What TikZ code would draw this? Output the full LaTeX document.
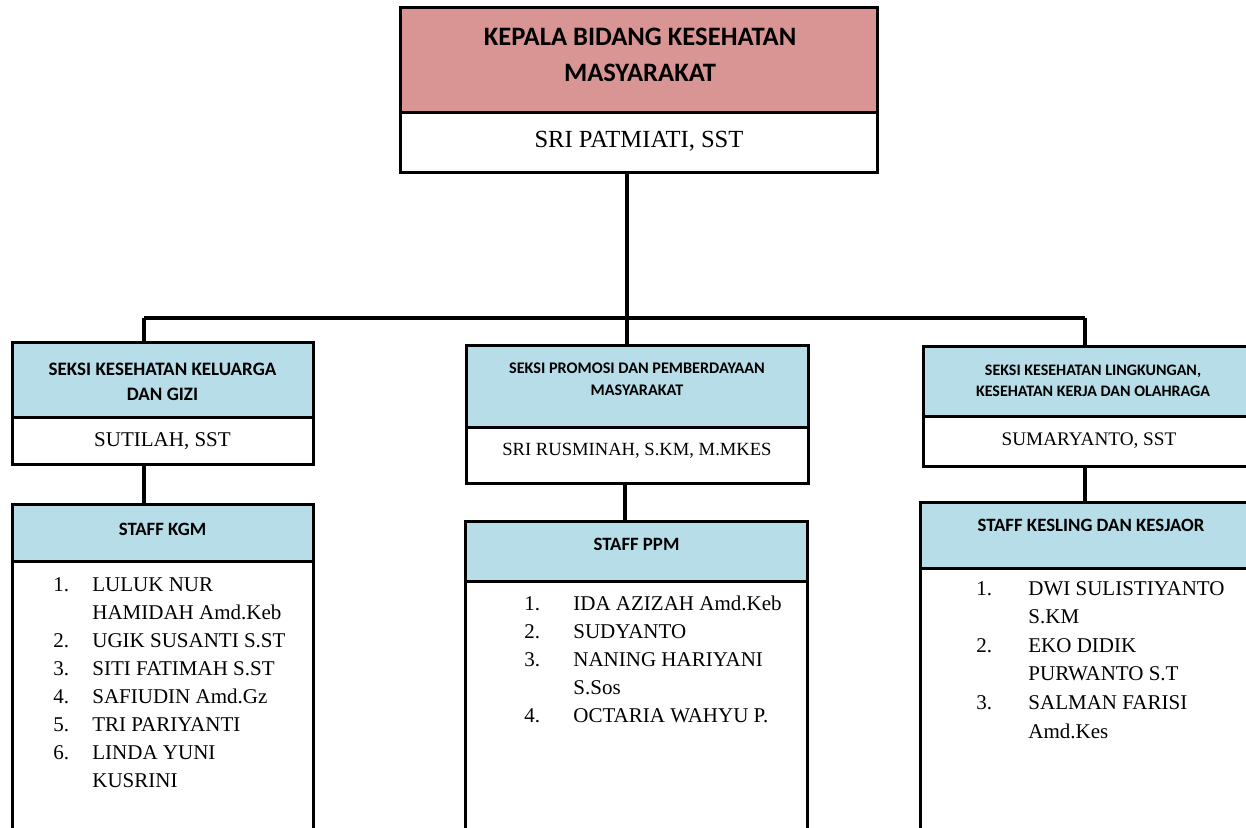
\documentclass[tikz,border=0pt]{standalone}
\usepackage{fontspec}
\setmainfont{Liberation Serif}
\newfontfamily\calib{Carlito}
\definecolor{pinkhd}{HTML}{D99594}
\definecolor{bluehd}{HTML}{B6DDE8}
\newcommand\twoln[2]{\begin{tabular}[t]{@{}c@{}}#1\\#2\end{tabular}}
\tikzset{
  boxx/.style={draw, line width=1.5pt, inner sep=0pt, outer sep=0pt, anchor=north west},
  pinkbox/.style={boxx, fill=pinkhd},
  bluebox/.style={boxx, fill=bluehd},
  whitebox/.style={boxx, fill=white},
  txt/.style={anchor=base, inner sep=0pt},
  lst/.style={anchor=base west, inner sep=0pt, font=\fontsize{10.5}{14}\selectfont},
  conn/.style={line width=1.8pt}
}
\begin{document}
\begin{tikzpicture}[x=0.5pt,y=-0.5pt]
\useasboundingbox (0,0) rectangle (1246,828);
\begin{scope}
\clip (0,0) rectangle (1246,828);
% top box
\node[pinkbox, minimum width=238.5pt, minimum height=52.5pt] (tph) at (400,8) {};
\node[whitebox, minimum width=238.5pt, minimum height=30pt] (tpn) at (400,113) {};
% left
\node[bluebox, minimum width=150.5pt, minimum height=37pt] (lh) at (12,343) {};
\node[whitebox, minimum width=150.5pt, minimum height=23.5pt] (ln) at (12,417) {};
\node[bluebox, minimum width=150.5pt, minimum height=28.5pt] (lsh) at (12,504) {};
\node[whitebox, minimum width=150.5pt, minimum height=145pt] (lsb) at (12,561) {};
% middle
\node[bluebox, minimum width=171pt, minimum height=40.5pt] (mh) at (466,346) {};
\node[whitebox, minimum width=171pt, minimum height=28pt] (mn) at (466,427) {};
\node[bluebox, minimum width=171pt, minimum height=30pt] (msh) at (465,521) {};
\node[whitebox, minimum width=171pt, minimum height=135pt] (msb) at (465,581) {};
% right
\node[bluebox, minimum width=200pt, minimum height=34.5pt] (rh) at (923,347) {};
\node[whitebox, minimum width=200pt, minimum height=25pt] (rn) at (923,416) {};
\node[bluebox, minimum width=200pt, minimum height=33pt] (rsh) at (920,502) {};
\node[whitebox, minimum width=200pt, minimum height=140pt] (rsb) at (920,568) {};
% connectors
\coordinate (bl) at (144,318);
\coordinate (bm) at (627,318);
\coordinate (br) at (1085,318);
\draw[conn] (bm |- tpn.south) -- (bm);
\draw[conn] (bl) -- (br);
\draw[conn] (bl) -- (bl |- lh.north);
\draw[conn] (bm) -- (bm |- mh.north);
\draw[conn] (br) -- (br |- rh.north);
\draw[conn] (bl |- ln.south) -- (bl |- lsh.north);
\coordinate (bm2) at (625,500);
\draw[conn] (bm2 |- mn.south) -- (bm2 |- msh.north);
\draw[conn] (br |- rn.south) -- (br |- rsh.north);
% texts
\node[txt, font={\calib\bfseries\fontsize{13.3}{18}\selectfont}] (t1) at (640,45.7) {\twoln{KEPALA BIDANG KESEHATAN}{MASYARAKAT}};
\node[txt, font=\fontsize{12.3}{14}\selectfont] (t2) at (639,148) {SRI PATMIATI, SST};
\node[txt, font={\calib\bfseries\fontsize{9.5}{12.85}\selectfont}] (t3) at (162.5,375) {\twoln{SEKSI KESEHATAN KELUARGA}{DAN GIZI}};
\node[txt, font=\fontsize{10.5}{12}\selectfont] (t4) at (162.5,446.7) {SUTILAH, SST};
\node[txt, font={\calib\bfseries\fontsize{8.1}{11.2}\selectfont}] (t5) at (637,373.3) {\twoln{SEKSI PROMOSI DAN PEMBERDAYAAN}{MASYARAKAT}};
\node[txt, font=\fontsize{9.3}{12}\selectfont] (t6) at (637,455) {SRI RUSMINAH, S.KM, M.MKES};
\node[txt, font={\calib\bfseries\fontsize{8}{10.5}\selectfont}] (t7) at (1093,375.7) {\twoln{SEKSI KESEHATAN LINGKUNGAN,}{KESEHATAN KERJA DAN OLAHRAGA}};
\node[txt, font=\fontsize{9.6}{12}\selectfont] (t8) at (1089,445.7) {SUMARYANTO, SST};
\node[txt, font={\calib\bfseries\fontsize{9.4}{12}\selectfont}] (t9) at (162.5,535) {STAFF KGM};
\node[txt, font={\calib\bfseries\fontsize{9.4}{12}\selectfont}] (t10) at (636.5,550) {STAFF PPM};
\node[txt, font={\calib\bfseries\fontsize{9.4}{12}\selectfont}] (t11) at (1091,531.7) {STAFF KESLING DAN KESJAOR};
% lists
\node[lst] (l1) at (53,591.7) {\begin{tabular}[t]{@{}p{19.5pt}@{}l@{}}
1. & LULUK NUR\\
   & HAMIDAH Amd.Keb\\
2. & UGIK SUSANTI S.ST\\
3. & SITI FATIMAH S.ST\\
4. & SAFIUDIN Amd.Gz\\
5. & TRI PARIYANTI\\
6. & LINDA YUNI\\
   & KUSRINI
\end{tabular}};
\node[lst] (l2) at (524,610) {\begin{tabular}[t]{@{}p{24.5pt}@{}l@{}}
1. & IDA AZIZAH Amd.Keb\\
2. & SUDYANTO\\
3. & NANING HARIYANI\\
   & S.Sos\\
4. & OCTARIA WAHYU P.
\end{tabular}};
\node[lst, font=\fontsize{10.5}{14.3}\selectfont] (l3) at (976,595) {\begin{tabular}[t]{@{}p{26pt}@{}l@{}}
1. & DWI SULISTIYANTO\\
   & S.KM\\
2. & EKO DIDIK\\
   & PURWANTO S.T\\
3. & SALMAN FARISI\\
   & Amd.Kes
\end{tabular}};
\end{scope}
\end{tikzpicture}
\end{document}
